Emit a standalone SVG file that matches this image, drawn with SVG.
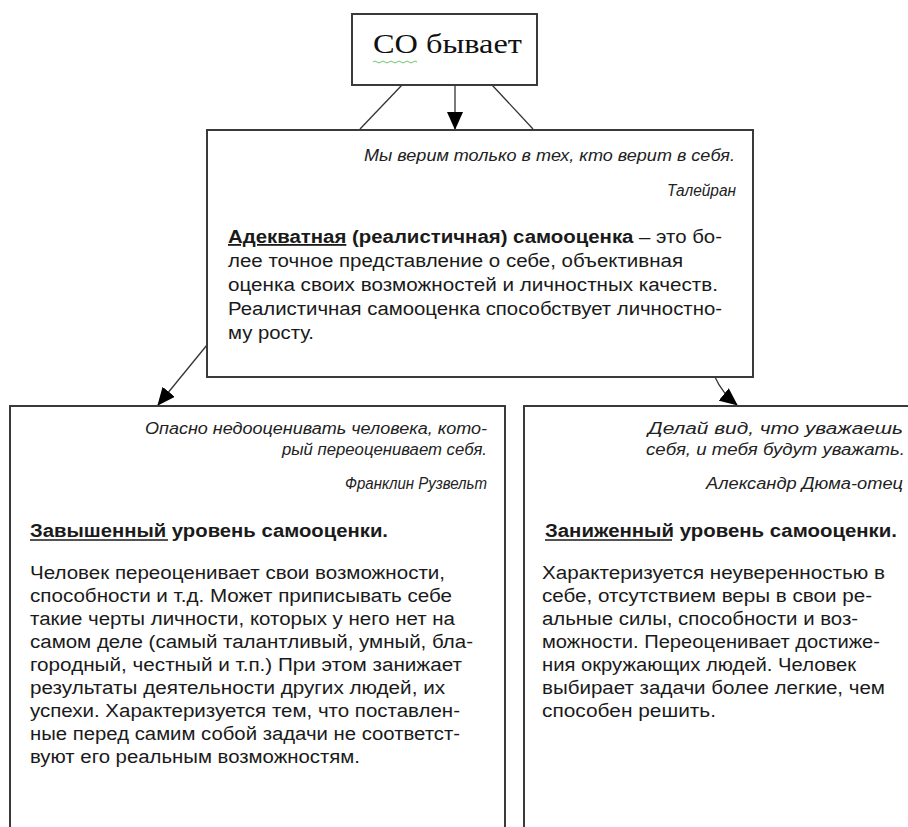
<svg xmlns="http://www.w3.org/2000/svg" width="908" height="827" viewBox="0 0 908 827">
<defs>
<marker id="ah" markerUnits="userSpaceOnUse" markerWidth="18" markerHeight="16" refX="17" refY="8" orient="auto">
<path d="M0,0 L18,8 L0,16 Z" fill="#000"/>
</marker>
<style>
.box{fill:#fff;stroke:#3a3a3a;stroke-width:2}
.ln{fill:none;stroke:#333;stroke-width:1.3}
.q{font-family:"Liberation Sans",Arial,sans-serif;font-style:italic;font-size:16px;fill:#222;text-anchor:end}
.b{font-family:"Liberation Sans",Arial,sans-serif;font-size:18px;fill:#1a1a1a}
.h{font-family:"Liberation Sans",Arial,sans-serif;font-size:18px;font-weight:bold;fill:#1a1a1a}
.t{font-family:"Liberation Serif","Times New Roman",serif;font-size:27px;fill:#111}
.u{stroke:#1a1a1a;stroke-width:1.3}
</style>
</defs>
<rect width="908" height="827" fill="#fff"/>
<g id="connectors">
<line class="ln" x1="402" y1="85" x2="360" y2="129"/>
<line class="ln" x1="492" y1="85" x2="533" y2="129"/>
<line class="ln" x1="455" y1="85" x2="455" y2="129" marker-end="url(#ah)"/>
<line class="ln" x1="207" y1="345" x2="158" y2="405" marker-end="url(#ah)"/>
<path class="ln" d="M715,377 Q722,393 737,405" marker-end="url(#ah)"/>
</g>
<g id="node-top">
<rect class="box" x="352" y="14" width="185" height="71"/>
<text class="t" x="373" y="53" textLength="149" lengthAdjust="spacingAndGlyphs">СО бывает</text>
<path d="M373,62 q2,-2 4,0 t4,0 t4,0 t4,0 t4,0 t4,0 t4,0 t4,0 t4,0 t4,0 t4,0" fill="none" stroke="#5fbf5f" stroke-width="0.9"/>
</g>
<g id="node-adequate">
<rect class="box" x="207" y="130" width="546" height="247"/>
<text class="q" x="735" y="161" textLength="371" lengthAdjust="spacingAndGlyphs">Мы верим только в тех, кто верит в себя.</text>
<text class="q" x="736" y="196" textLength="69" lengthAdjust="spacingAndGlyphs">Талейран</text>
<text class="b" x="228" y="243" textLength="494" lengthAdjust="spacingAndGlyphs"><tspan font-weight="bold" text-decoration="underline">Адекватная</tspan><tspan font-weight="bold"> (реалистичная) самооценка</tspan> – это бо-</text>
<text class="b" x="228" y="267" textLength="455" lengthAdjust="spacingAndGlyphs">лее точное представление о себе, объективная</text>
<text class="b" x="228" y="291" textLength="490" lengthAdjust="spacingAndGlyphs">оценка своих возможностей и личностных качеств.</text>
<text class="b" x="228" y="315" textLength="494" lengthAdjust="spacingAndGlyphs">Реалистичная самооценка способствует личностно-</text>
<text class="b" x="228" y="339" textLength="86" lengthAdjust="spacingAndGlyphs">му росту.</text>
</g>
<g id="node-high">
<rect class="box" x="10" y="406" width="495" height="430"/>
<text class="q" x="487" y="434" textLength="342" lengthAdjust="spacingAndGlyphs">Опасно недооценивать человека, кото-</text>
<text class="q" x="487" y="455" textLength="205" lengthAdjust="spacingAndGlyphs">рый переоценивает себя.</text>
<text class="q" x="487" y="489" textLength="142" lengthAdjust="spacingAndGlyphs">Франклин Рузвельт</text>
<text class="h" x="30" y="537" textLength="358" lengthAdjust="spacingAndGlyphs">Завышенный уровень самооценки.</text>
<line class="u" x1="30" y1="540" x2="168" y2="540"/>
<text class="b" x="30" y="579" textLength="415" lengthAdjust="spacingAndGlyphs">Человек переоценивает свои возможности,</text>
<text class="b" x="30" y="602" textLength="422" lengthAdjust="spacingAndGlyphs">способности и т.д. Может приписывать себе</text>
<text class="b" x="30" y="625" textLength="425" lengthAdjust="spacingAndGlyphs">такие черты личности, которых у него нет на</text>
<text class="b" x="30" y="648" textLength="443" lengthAdjust="spacingAndGlyphs">самом деле (самый талантливый, умный, бла-</text>
<text class="b" x="30" y="671" textLength="432" lengthAdjust="spacingAndGlyphs">городный, честный и т.п.) При этом занижает</text>
<text class="b" x="30" y="694" textLength="415" lengthAdjust="spacingAndGlyphs">результаты деятельности других людей, их</text>
<text class="b" x="30" y="717" textLength="430" lengthAdjust="spacingAndGlyphs">успехи. Характеризуется тем, что поставлен-</text>
<text class="b" x="30" y="740" textLength="430" lengthAdjust="spacingAndGlyphs">ные перед самим собой задачи не соответст-</text>
<text class="b" x="30" y="763" textLength="330" lengthAdjust="spacingAndGlyphs">вуют его реальным возможностям.</text>
</g>
<g id="node-low">
<rect class="box" x="524" y="406" width="400" height="430"/>
<text class="q" x="903" y="434" textLength="255" lengthAdjust="spacingAndGlyphs">Делай вид, что уважаешь</text>
<text class="q" x="905" y="455" textLength="259" lengthAdjust="spacingAndGlyphs">себя, и тебя будут уважать.</text>
<text class="q" x="903" y="489" textLength="197" lengthAdjust="spacingAndGlyphs">Александр Дюма-отец</text>
<text class="h" x="545" y="537" textLength="352" lengthAdjust="spacingAndGlyphs">Заниженный уровень самооценки.</text>
<line class="u" x1="545" y1="540" x2="672" y2="540"/>
<text class="b" x="542" y="579" textLength="343" lengthAdjust="spacingAndGlyphs">Характеризуется неуверенностью в</text>
<text class="b" x="542" y="602" textLength="330" lengthAdjust="spacingAndGlyphs">себе, отсутствием веры в свои ре-</text>
<text class="b" x="542" y="625" textLength="316" lengthAdjust="spacingAndGlyphs">альные силы, способности и воз-</text>
<text class="b" x="542" y="648" textLength="338" lengthAdjust="spacingAndGlyphs">можности. Переоценивает достиже-</text>
<text class="b" x="542" y="671" textLength="314" lengthAdjust="spacingAndGlyphs">ния окружающих людей. Человек</text>
<text class="b" x="542" y="694" textLength="343" lengthAdjust="spacingAndGlyphs">выбирает задачи более легкие, чем</text>
<text class="b" x="542" y="717" textLength="174" lengthAdjust="spacingAndGlyphs">способен решить.</text>
</g>
</svg>
